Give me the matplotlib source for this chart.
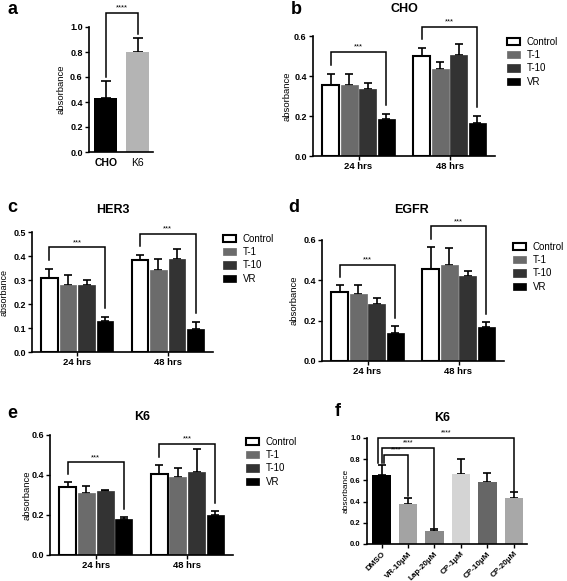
import matplotlib
matplotlib.use('Agg')
import matplotlib.pyplot as plt
from matplotlib.patches import Patch
from matplotlib.ticker import FormatStrFormatter
import numpy as np

plt.rcParams['font.family'] = ['Liberation Sans', 'DejaVu Sans']

W, H = 567, 581

# ---- data ----
series_names = ['Control', 'T-1', 'T-10', 'VR']
series_colors = ['white', '#6b6b6b', '#333333', 'black']
time_labels = ['24 hrs', '48 hrs']

# panel a
a_labels = ['CHO', 'K6']
a_means = [0.43, 0.80]
a_errs = [0.14, 0.11]

# panel b (CHO), rows = time points, columns = series
cho_means = [[0.355, 0.357, 0.333, 0.187], [0.498, 0.437, 0.507, 0.167]]
cho_errs = [[0.054, 0.052, 0.030, 0.025], [0.043, 0.034, 0.055, 0.032]]

# panel c (HER3)
her3_means = [[0.308, 0.280, 0.280, 0.130], [0.385, 0.343, 0.388, 0.097]]
her3_errs = [[0.039, 0.039, 0.019, 0.017], [0.018, 0.045, 0.041, 0.027]]

# panel d (EGFR)
egfr_means = [[0.344, 0.332, 0.283, 0.141], [0.456, 0.476, 0.421, 0.169]]
egfr_errs = [[0.032, 0.044, 0.031, 0.031], [0.111, 0.083, 0.027, 0.025]]

# panel e (K6)
k6_means = [[0.342, 0.308, 0.320, 0.180], [0.405, 0.388, 0.413, 0.200]]
k6_errs = [[0.021, 0.037, 0.005, 0.012], [0.045, 0.045, 0.117, 0.022]]

# panel f (K6, inhibitors)
f_labels = ['DMSO', 'VR-10\u03bcM', 'Lap-20\u03bcM', 'CP-1\u03bcM', 'CP-10\u03bcM', 'CP-20\u03bcM']
f_means = [0.655, 0.378, 0.124, 0.665, 0.588, 0.437]
f_errs = [0.094, 0.060, 0.015, 0.133, 0.084, 0.050]
f_colors = ['black', '#a3a3a3', '#8a8a8a', '#d4d4d4', '#666666', '#a8a8a8']

# significance bracket heights
cho_brackets = [0.52, 0.647]
her3_brackets = [0.436, 0.492]
egfr_brackets = [0.476, 0.667]
k6_brackets = [0.463, 0.555]
f_brackets = [0.84, 0.906, 1.0]   # DMSO vs VR, Lap, CP-20
f_pairs = [1, 2, 5]

fig = plt.figure(figsize=(W / 100, H / 100), dpi=100)


def add_ax(left, top, right, bottom):
    return fig.add_axes([left / W, 1 - bottom / H, (right - left) / W, (bottom - top) / H])


def style(ax, ymax, ystep, fs=6.5):
    for s in ['top', 'right']:
        ax.spines[s].set_visible(False)
    for s in ['left', 'bottom']:
        ax.spines[s].set_linewidth(1.2)
    ax.set_ylim(0, ymax)
    ax.set_yticks(np.arange(0, ymax + 1e-9, ystep))
    ax.yaxis.set_major_formatter(FormatStrFormatter('%.1f'))
    ax.tick_params(direction='out', length=3, width=1, labelsize=fs, pad=1.5)
    for t in ax.get_yticklabels():
        t.set_fontweight('bold')


def px_text(x, y, s, **kw):
    fig.text(x / W, 1 - y / H, s, **kw)


def ylabel(ax, x, box, fs=6.8):
    left, top, right, bottom = box
    ax.set_ylabel('absorbance', fontsize=fs)
    # label anchor is its right edge when rotated, so shift by half the text height
    ax.yaxis.set_label_coords((x + fs * 0.55 - left) / (right - left), 0.5)


def bracket(ax, x1, x2, y, y1, y2, stars, fs=5.5):
    ax.plot([x1, x1, x2, x2], [y1, y, y, y2], color='black', lw=1.1, clip_on=False,
            solid_joinstyle='miter')
    ax.annotate(stars, ((x1 + x2) / 2, y), xytext=(0, 1), textcoords='offset points',
                ha='center', va='bottom', fontsize=fs, annotation_clip=False)


step, width = 0.205, 0.185


def grouped(ax, means, errs, brackets, gap):
    for j in range(4):
        xs = np.arange(2) + (j - 1.5) * step
        vals = [means[g][j] for g in range(2)]
        ers = [errs[g][j] for g in range(2)]
        ec = 'black' if j == 0 else series_colors[j]
        ax.bar(xs, vals, width, color=series_colors[j], edgecolor=ec,
               linewidth=1.5 if j == 0 else 0.5, zorder=2)
        ax.errorbar(xs, vals, yerr=[np.zeros(2), ers], fmt='none', ecolor='black',
                    elinewidth=1.2, capsize=3, capthick=1.2, zorder=1)
    for g in range(2):
        x1 = g - 1.5 * step
        x2 = g + 1.5 * step
        y1 = means[g][0] + errs[g][0] + gap
        y2 = means[g][3] + errs[g][3] + gap
        bracket(ax, x1, x2, brackets[g], y1, y2, '***')
    ax.set_xlim(-0.5, 1.5)
    ax.set_xticks([0, 1])
    ax.set_xticklabels(time_labels, fontsize=6.8, fontweight='bold')


def legend(ax, x, y):
    handles = []
    for j, name in enumerate(series_names):
        handles.append(Patch(facecolor=series_colors[j], edgecolor='black' if j == 0 else series_colors[j],
                             linewidth=1.5 if j == 0 else 0.5, label=name))
    ax.legend(handles=handles, loc='upper left', bbox_to_anchor=(x / W, 1 - y / H),
              bbox_transform=fig.transFigure, frameon=False, fontsize=7,
              handlelength=1.35, handleheight=0.75, handletextpad=0.7,
              labelspacing=0.33, borderpad=0, borderaxespad=0)


# ---- panel a ----
box = (89, 27, 153, 152)
ax = add_ax(*box)
style(ax, 1.0, 0.2)
ax.bar([0, 1], a_means, 0.72, color=['black', '#b4b4b4'], zorder=2)
ax.errorbar([0, 1], a_means, yerr=[[0, 0], a_errs], fmt='none', ecolor='black',
            elinewidth=1.2, capsize=3.5, capthick=1.2, zorder=1)
ax.set_xlim(-0.52, 1.48)
ax.set_xticks([0, 1])
ax.set_xticklabels(a_labels, fontsize=7.5)
ax.get_xticklabels()[0].set_fontweight('bold')
ax.tick_params(axis='x', length=0, pad=4)
bracket(ax, 0, 1, 1.115, a_means[0] + a_errs[0] + 0.03, a_means[1] + a_errs[1] + 0.03, '****')
ylabel(ax, 62, box)
px_text(7, 10, 'a', fontsize=13, fontweight='bold', va='center')

# ---- panel b ----
box = (313, 36, 495, 156)
ax = add_ax(*box)
style(ax, 0.6, 0.2)
grouped(ax, cho_means, cho_errs, cho_brackets, 0.045)
ylabel(ax, 288, box)
legend(ax, 507, 37)
px_text(404, 9, 'CHO', fontsize=9, fontweight='bold', ha='center', va='center')
px_text(291, 10, 'b', fontsize=13, fontweight='bold', va='center')

# ---- panel c ----
box = (32, 232, 213, 352)
ax = add_ax(*box)
style(ax, 0.5, 0.1)
grouped(ax, her3_means, her3_errs, her3_brackets, 0.038)
ylabel(ax, 5, box, fs=6.5)
legend(ax, 223, 234)
px_text(113, 210, 'HER3', fontsize=9, fontweight='bold', ha='center', va='center')
px_text(7, 208, 'c', fontsize=13, fontweight='bold', va='center')

# ---- panel d ----
box = (322, 240, 504, 361)
ax = add_ax(*box)
style(ax, 0.6, 0.2)
grouped(ax, egfr_means, egfr_errs, egfr_brackets, 0.04)
ylabel(ax, 295, box)
legend(ax, 513, 242)
px_text(411, 210, 'EGFR', fontsize=9, fontweight='bold', ha='center', va='center')
px_text(288, 208, 'd', fontsize=13, fontweight='bold', va='center')

# ---- panel e ----
box = (50, 435, 233, 555)
ax = add_ax(*box)
style(ax, 0.6, 0.2)
grouped(ax, k6_means, k6_errs, k6_brackets, 0.04)
ylabel(ax, 28, box)
legend(ax, 246, 437)
px_text(142, 417, 'K6', fontsize=9, fontweight='bold', ha='center', va='center')
px_text(7, 414, 'e', fontsize=13, fontweight='bold', va='center')

# ---- panel f ----
box = (367, 438, 527, 544)
ax = add_ax(*box)
style(ax, 1.0, 0.2, fs=5.5)
xf = np.arange(len(f_labels))
ax.bar(xf, f_means, 0.7, color=f_colors, zorder=2)
ax.errorbar(xf, f_means, yerr=[np.zeros(len(xf)), f_errs], fmt='none', ecolor='black',
            elinewidth=1.2, capsize=3, capthick=1.2, zorder=1)
ax.set_xlim(-0.55, 5.5)
ax.set_xticks(xf)
ax.set_xticklabels(f_labels, fontsize=5.8, fontweight='bold', rotation=45,
                   ha='right', rotation_mode='anchor')
offsets = [0.1, 0.0, -0.13]
for k in range(3):
    i = f_pairs[k]
    bracket(ax, offsets[k], i, f_brackets[k], f_means[0] + f_errs[0] + 0.015,
            f_means[i] + f_errs[i] + 0.015, '****', fs=5)
ylabel(ax, 346, box, fs=6)
px_text(442, 418, 'K6', fontsize=9, fontweight='bold', ha='center', va='center')
px_text(335, 412, 'f', fontsize=13, fontweight='bold', va='center')

fig.savefig('out.png', dpi=100)
